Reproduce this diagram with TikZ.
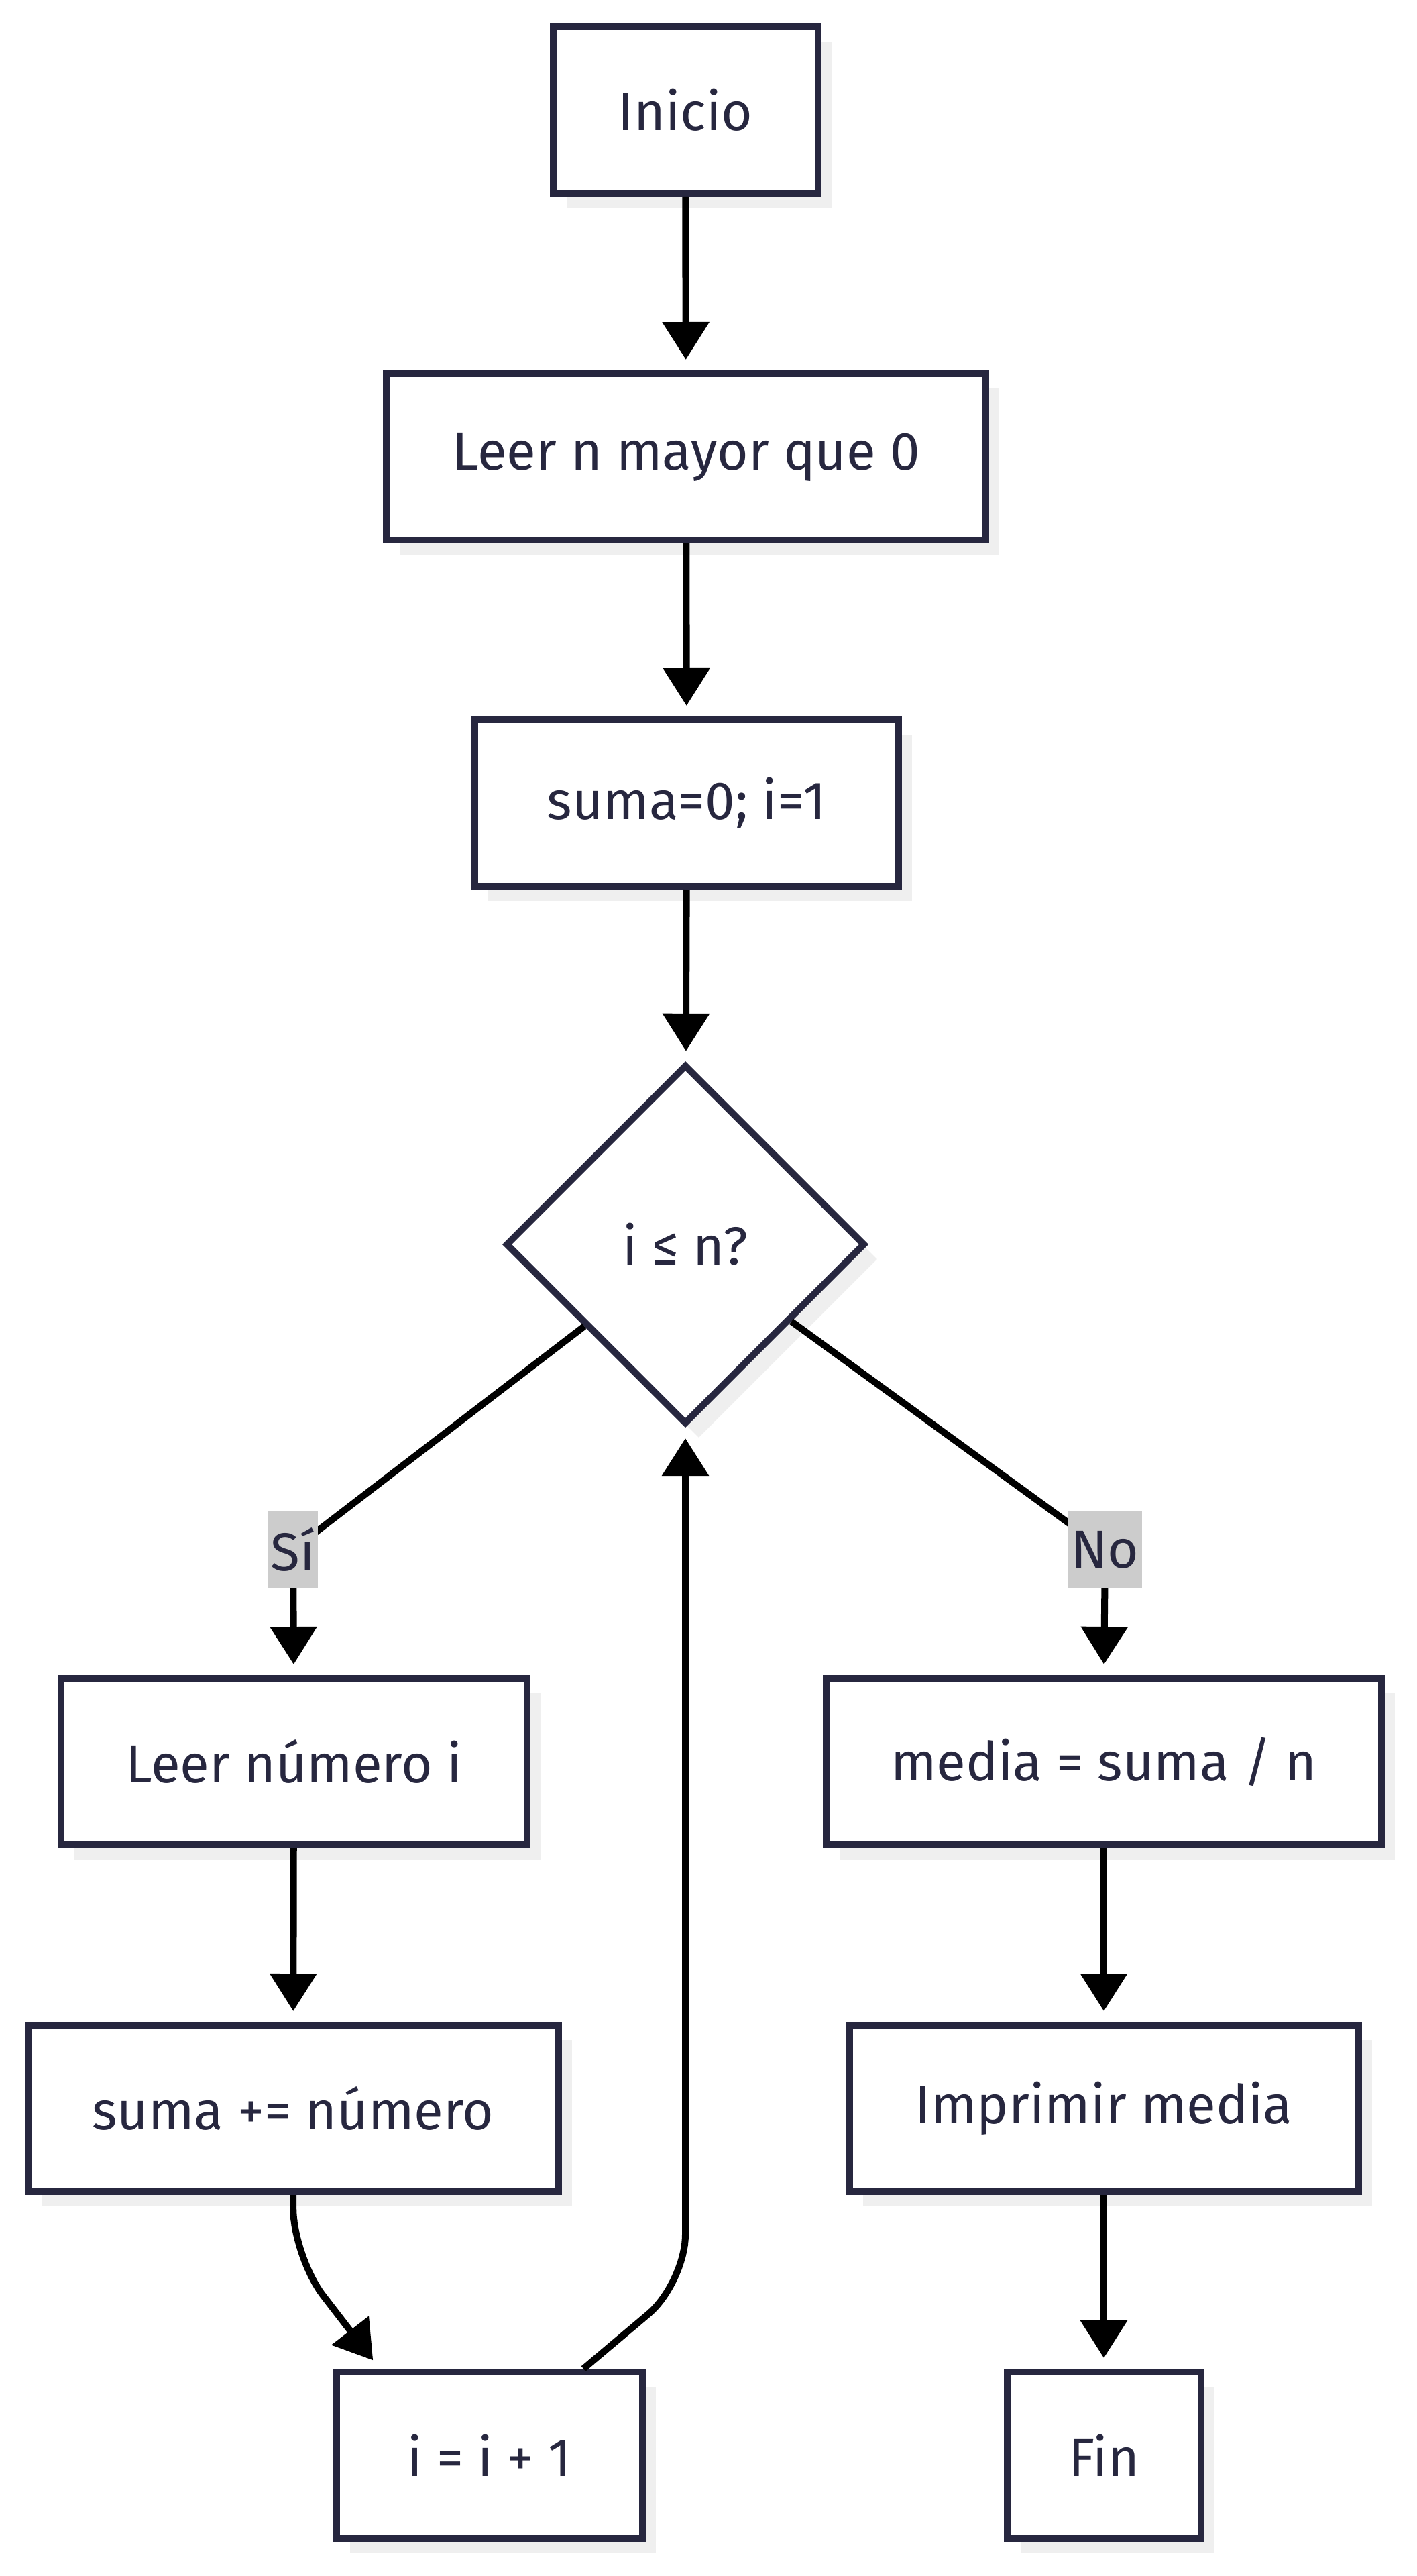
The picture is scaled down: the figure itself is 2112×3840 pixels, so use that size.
\documentclass[tikz,border=0pt]{standalone}
\usepackage{fontspec}
\setmainfont{Fira Sans}
\usetikzlibrary{shapes.geometric,arrows.meta,calc,shadows}
\definecolor{ink}{HTML}{27273F}
\definecolor{shade}{HTML}{EFEFEF}
\definecolor{labbg}{HTML}{CCCCCC}
\begin{document}
\begin{tikzpicture}[x=0.25pt,y=-0.25pt,
  box/.style={draw=ink, line width=2.5pt, fill=white, text=ink, minimum height=62pt,
    inner sep=0pt, font=\fontsize{20}{24}\selectfont,
    general shadow={fill=shade, shadow xshift=5pt, shadow yshift=-5.5pt}},
  dia/.style={box, diamond, aspect=1, minimum width=134pt, minimum height=134pt},
  edge/.style={draw=black, line width=2.5pt, -{Triangle[width=17pt,length=14pt]}, shorten >=4pt},
  lbl/.style={fill=labbg, text=ink, inner sep=1pt, minimum height=28.5pt, font=\fontsize{20}{24}\selectfont}]
\useasboundingbox (0,0) rectangle (2112,3840);
% nodes
\node[box, minimum width=98.75pt] (inicio) at (1022,164) {Inicio};
\node[box, minimum width=223.5pt] (leern) at (1023,681) {Leer n mayor que 0};
\node[box, minimum width=158pt] (suma0) at (1024,1197) {suma=0; i=1};
\node[dia] (d) at (1022,1855) {i ≤ n?};
\node[box, minimum width=173.75pt] (leeri) at (438,2626) {Leer número i};
\node[box, minimum width=197.75pt] (sumamas) at (437,3143) {suma += número};
\node[box, minimum width=114pt] (inc) at (730,3660) {i = i + 1};
\node[box, minimum width=207pt] (media) at (1646,2626) {media = suma / n};
\node[box, minimum width=189.75pt] (impr) at (1646,3143) {Imprimir media};
\node[box, minimum width=72.25pt] (fin) at (1646,3660) {Fin};
% connector bend points
\coordinate (siP) at (437,2310);
\coordinate (noP) at (1648,2310);
\coordinate (c1) at (438,3365);
\coordinate (c2) at (1022,3403);
% edges
\draw[edge] (inicio) -- (leern);
\draw[edge] (leern) -- (suma0);
\draw[edge] (suma0) -- (d);
\draw[edge] (d.-141) -- (siP) -- (leeri.north);
\draw[edge] (d.-36) -- (noP) -- (media.north);
\draw[edge] (leeri) -- (sumamas);
\draw[edge, rounded corners=18pt] (sumamas.south) -- (c1) -- ($(inc.north west)+(69,0)$);
\draw[edge, rounded corners=18pt] ($(inc.north)+(140,0)$) -- (c2) -- (d.south);
\draw[edge] (media) -- (impr);
\draw[edge] (impr) -- (fin);
% labels
\node[lbl] (si) at (siP) {Sí};
\node[lbl] (no) at (noP) {No};
\end{tikzpicture}
\end{document}
